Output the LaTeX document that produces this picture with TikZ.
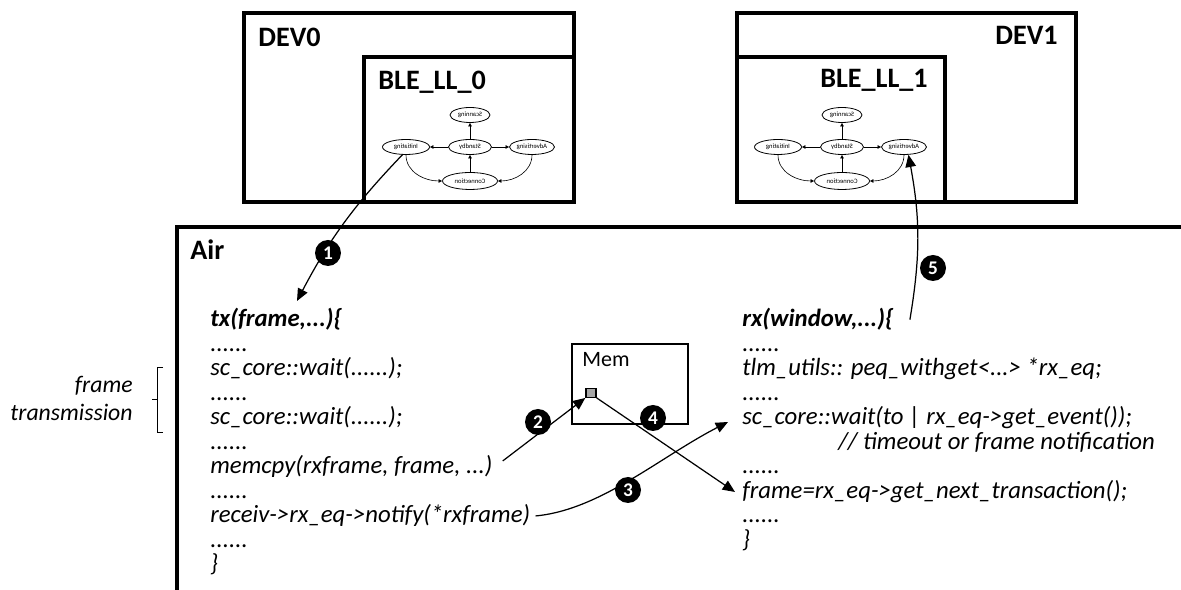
\documentclass[tikz,border=0pt]{standalone}
\usepackage{fontspec}
\setmainfont{Carlito}
\usetikzlibrary{arrows.meta,positioning,calc,shapes.geometric}

\begin{document}
\begin{tikzpicture}[
  x=0.02cm,y=-0.02cm,>={Triangle[length=7pt,width=6pt]},
  every node/.style={text=black},
  frame/.style={draw,line width=2.2pt},
  title/.style={font=\fontsize{16}{18}\selectfont\bfseries,inner sep=0pt},
  code/.style={anchor=base west,inner sep=0pt,
    font=\fontsize{14.1}{14}\selectfont\itshape},
  codehead/.style={code,font=\fontsize{14.1}{14}\selectfont\bfseries\itshape},
  state/.style={draw,ellipse,line width=.45pt,minimum width=.86cm,
    minimum height=.3cm,inner sep=0pt,font=\fontsize{3.8}{4}\selectfont},
  fsmedge/.style={->,>={Triangle[length=2pt,width=2pt]},line width=.35pt},
  flow/.style={->,line width=.7pt},
  marker/.style={circle,fill=black,text=white,inner sep=0pt,
    minimum size=.52cm,font=\fontsize{11}{11}\selectfont\bfseries}
]
\useasboundingbox[fill=white] (0,0) rectangle (1181,590);
% Device frames with their link-layer blocks.
\draw[frame] (244,13) rectangle (574,202);
\draw[frame] (364,57) rectangle (574,202);
\draw[frame] (737,13) rectangle (1076,202);
\draw[frame] (737,57) rectangle (945,202);
\node[title,anchor=base west] (dev0lbl) at (258,47) {DEV0};
\node[title,anchor=base west] (ble0lbl) at (378,90) {BLE\_LL\_0};
\node[title,anchor=base east] (dev1lbl) at (1058,45) {DEV1};
\node[title,anchor=base east] (ble1lbl) at (928,88) {BLE\_LL\_1};
% The same link-layer state machine sits in both devices.
\foreach \cx/\k in {470/0,842/1}{
  \begin{scope}[shift={(\cx,115)},name prefix=fsm\k-]
    \node[state,minimum width=.8cm] (scan) at (0,0) {\scalebox{-1}[1]{Scanning}};
    \node[state] (stby) at (0,32) {\scalebox{-1}[1]{Standby}};
    \node[state,minimum width=.94cm] (init) at (-64,32) {\scalebox{-1}[1]{Initiating}};
    \node[state,minimum width=.9cm] (adv) at (62,32) {\scalebox{-1}[1]{Advertising}};
    \node[state,minimum width=1.1cm,minimum height=.34cm] (conn) at (0,66)
      {\scalebox{-1}[1]{Connection}};
    \draw[fsmedge] (stby) -- (scan);
    \draw[fsmedge] (stby) -- (init);
    \draw[fsmedge] (stby) -- (adv);
    \draw[fsmedge] (conn) -- (stby);
    \draw[fsmedge] (init.south) to[out=-90,in=180] (conn.west);
    \draw[fsmedge] (adv.south) to[out=-90,in=0] (conn.east);
  \end{scope}}
% Shared channel.
\draw[frame] (177,600) -- (177,227) -- (1190,227);
\node[title,anchor=base west] (airlbl) at (190,260) {Air};
\node[codehead] (txhead) at (210,327) {tx(frame,...)\{};
\node[code] (ldots1) at (210,351.5) {......};
\node[code] (lwait1) at (210,376) {sc\_core::wait(......);};
\node[code] (ldots2) at (210,400.5) {......};
\node[code] (lwait2) at (210,425) {sc\_core::wait(......);};
\node[code] (ldots3) at (210,449.5) {......};
\node[code] (memcpy) at (210,474) {memcpy(rxframe, frame, ...)};
\node[code] (ldots4) at (210,498.5) {......};
\node[code] (notify) at (210,523) {receiv->rx\_eq->notify(*rxframe)};
\node[code] (ldots5) at (210,547.5) {......};
\node[code] (ltail) at (210,572) {\}};
\node[codehead] (rxhead) at (742,327) {rx(window,...)\{};
\node[code] (rdots1) at (742,351.5) {......};
\node[code] (peq) at (742,376) {tlm\_utils:: peq\_withget<...> *rx\_eq;};
\node[code] (rdots2) at (742,400.5) {......};
\node[code] (waitev) at (742,425) {sc\_core::wait(to | rx\_eq->get\_event());};
\node[code] (waitnote) at (838,449.5) {// timeout or frame notification};
\node[code] (rdots3) at (742,474) {......};
\node[code] (nexttr) at (742,498.5) {frame=rx\_eq->get\_next\_transaction();};
\node[code] (rdots4) at (742,523) {......};
\node[code] (rtail) at (742,547.5) {\}};
% Buffer shared by sender and receiver.
\draw[line width=1.1pt] (572,344) rectangle (688,424);
\node[anchor=base west,inner sep=0pt,font=\fontsize{12.5}{14}\selectfont] (memlbl)
  at (582,367) {Mem};
\node[draw,fill=gray!70,line width=.8pt,minimum width=.2cm,minimum height=.17cm,
  inner sep=0pt] (slot) at (591,393) {};
\node[anchor=east,align=right,inner sep=0pt,
  font=\fontsize{13.5}{15.9}\selectfont\itshape] (txnote) at (133,398)
  {frame\\transmission};
\draw[line width=.5pt] (163,367) -| (157,432) -- (163,432);
\draw[line width=.5pt] (157,399) -- (152,399);
% Numbered steps of one frame exchange.
\coordinate (txin) at (297,301);
\coordinate (waitin) at (728,422);
\coordinate (nextin) at (735,492);
\draw[flow] (fsm0-init.-115) to[bend right=8] (txin);
\draw[flow] ($(memcpy.east)+(10,-6)$) -- (slot.south west);
\draw[flow] ($(notify.east)+(5,0)$) .. controls (600,510) and (660,457) .. (waitin);
\draw[flow] (slot.south east) -- (nextin);
\draw[flow] ($(rxhead.east)+(16,0)$) to[bend right=10] (fsm1-adv.-60);
\node[marker] (m1) at (328,253) {1};
\node[marker] (m2) at (538,422) {2};
\node[marker] (m3) at (628,490) {3};
\node[marker] (m4) at (653,418) {4};
\node[marker] (m5) at (933,268) {5};
\end{tikzpicture}
\end{document}
